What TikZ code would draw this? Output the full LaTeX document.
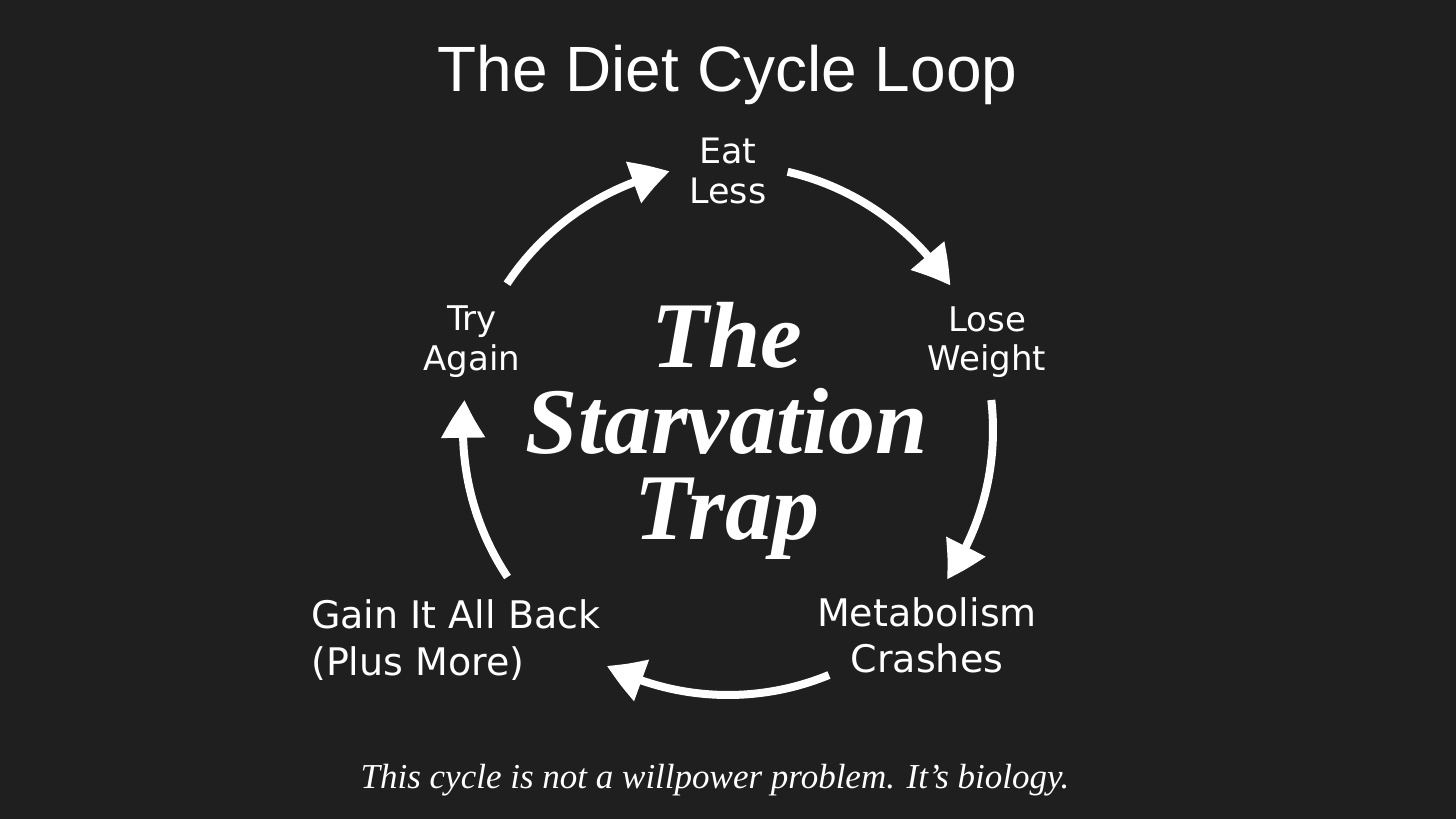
\documentclass[tikz,border=0pt]{standalone}
\usepackage{fontspec}
\setmainfont{Liberation Serif}
\newfontfamily\labfont{DejaVu Sans}
\newfontfamily\titfont{Liberation Sans}
\usetikzlibrary{arrows.meta,bending}
\definecolor{bgcol}{RGB}{31,31,31}
\begin{document}
\begin{tikzpicture}[x=1pt,y=1pt,
  lbl/.style={text=white,inner sep=0pt,align=center},
  cyc/.style={draw=white,line width=8pt,-{Triangle[length=38pt,width=42pt,bend]}}]
\useasboundingbox (0,0) rectangle (1456,819);
\fill[bgcol] (0,0) rectangle (1456,819);
\coordinate (C) at (728,389);
% title
\node[lbl,anchor=base,font=\titfont\fontsize{64}{70}\selectfont] (title) at (727.5,727) {The Diet Cycle Loop};
% labels
\node[lbl,font=\labfont\fontsize{35}{40}\selectfont] (eat) at (728,648.5) {Eat\\Less};
\node[lbl,font=\labfont\fontsize{34}{39}\selectfont] (lose) at (987,477) {Lose\\Weight};
\node[lbl,font=\labfont\fontsize{38}{46}\selectfont] (meta) at (927,184) {Metabolism\\Crashes};
\node[lbl,align=left,anchor=west,font=\labfont\fontsize{38}{47}\selectfont] (gain) at (311,179) {Gain It All Back\\(Plus More)};
\node[lbl,font=\labfont\fontsize{34}{40}\selectfont] (try) at (472,477.5) {Try\\Again};
% centre
\node[lbl,font=\bfseries\itshape\fontsize{94}{86}\selectfont] (trap) at (727,388.5) {The\\Starvation\\Trap};
% caption
\node[lbl,anchor=base,font=\itshape\fontsize{35}{40}\selectfont] (cap) at (715,30) {This cycle is not a willpower problem. It’s biology.};
% arcs
\coordinate (s1) at ([shift={(146.5:265)}]C);
\coordinate (s2) at ([shift={(77:265)}]C);
\coordinate (s3) at ([shift={(6.5:265)}]C);
\coordinate (s4) at ([shift={(-67.6:265)}]C);
\coordinate (s5) at ([shift={(-146.3:265)}]C);
\draw[cyc] (s1) arc[start angle=146.5,end angle=102.7,radius=265];
\draw[cyc] (s2) arc[start angle=77,end angle=33,radius=265];
\draw[cyc] (s3) arc[start angle=6.5,end angle=-34.3,radius=265];
\draw[cyc] (s4) arc[start angle=-67.6,end angle=-117.2,radius=265];
\draw[cyc] (s5) arc[start angle=-146.3,end angle=-186.5,radius=265];
\end{tikzpicture}
\end{document}
